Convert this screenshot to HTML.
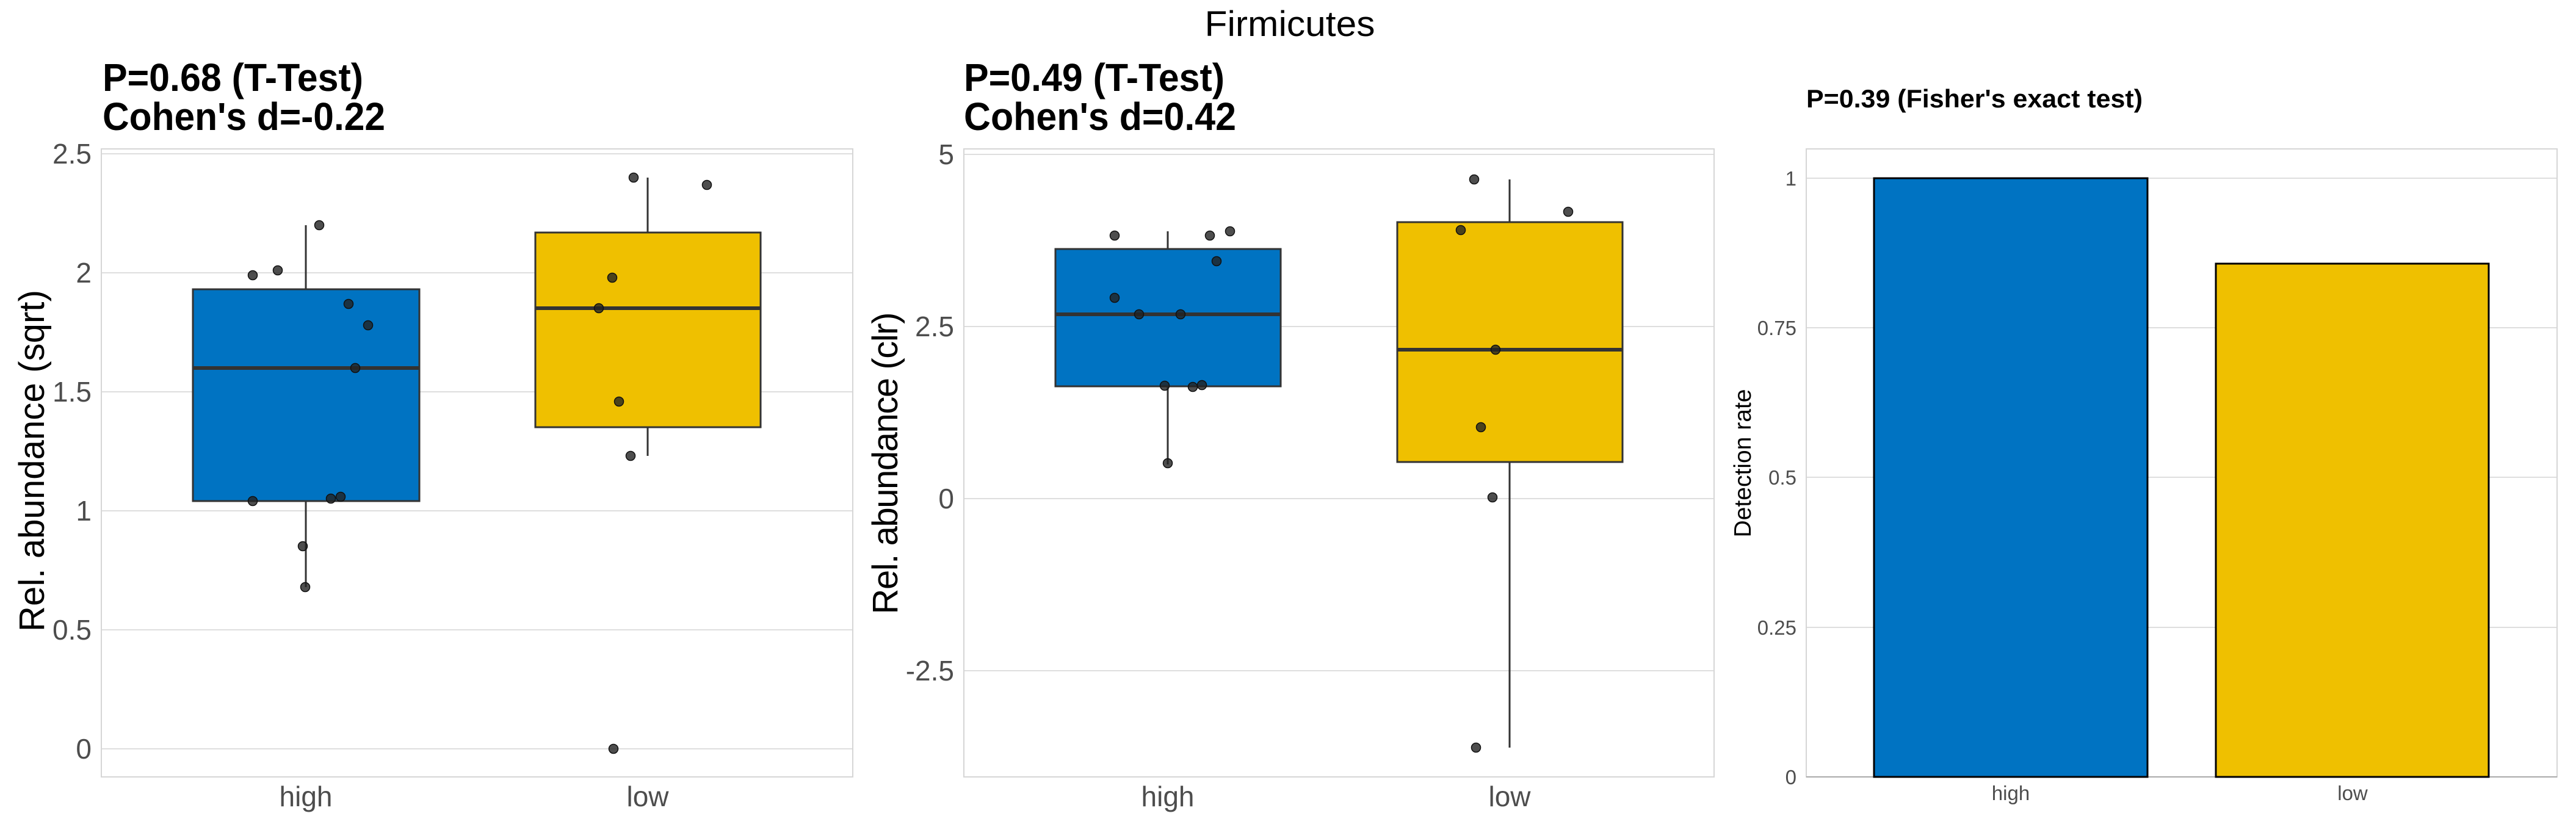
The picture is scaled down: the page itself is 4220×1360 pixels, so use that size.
<!DOCTYPE html>
<html><head><meta charset="utf-8"><style>html,body{margin:0;padding:0;background:#fff}svg{display:block}</style></head>
<body>
<svg xmlns="http://www.w3.org/2000/svg" width="4220" height="1360" viewBox="0 0 4220 1360" font-family="Liberation Sans, Arial, sans-serif">
<rect width="4220" height="1360" fill="#fff"/>
<text x="2113" y="59" font-size="58" text-anchor="middle" fill="#000" textLength="279" lengthAdjust="spacingAndGlyphs">Firmicutes</text>

<!-- Panel 1 -->
<g>
<text x="168" y="149" font-size="64" font-weight="bold" textLength="427" lengthAdjust="spacingAndGlyphs">P=0.68 (T-Test)</text>
<text x="168" y="213" font-size="64" font-weight="bold" textLength="463" lengthAdjust="spacingAndGlyphs">Cohen's d=-0.22</text>
<g stroke="#dedede" stroke-width="2">
<line x1="166" x2="1397" y1="1227" y2="1227"/><line x1="166" x2="1397" y1="1032" y2="1032"/><line x1="166" x2="1397" y1="837" y2="837"/><line x1="166" x2="1397" y1="642" y2="642"/><line x1="166" x2="1397" y1="447" y2="447"/><line x1="166" x2="1397" y1="252" y2="252"/>
</g>
<rect x="166" y="244" width="1231" height="1029" fill="none" stroke="#d6d6d6" stroke-width="2"/>
<g font-size="46" fill="#4d4d4d" text-anchor="end">
<text x="150" y="1243">0</text><text x="150" y="1048">0.5</text><text x="150" y="853">1</text><text x="150" y="658">1.5</text><text x="150" y="463">2</text><text x="150" y="268">2.5</text>
</g>
<g font-size="46" fill="#4d4d4d" text-anchor="middle"><text x="501" y="1321">high</text><text x="1061" y="1321">low</text></g>
<text transform="translate(72,755) rotate(-90)" font-size="58" text-anchor="middle" textLength="560">Rel. abundance (sqrt)</text>
<g stroke="#333" stroke-width="3">
<line x1="501" x2="501" y1="369" y2="962"/>
<rect x="316" y="474" width="371" height="347" fill="#0073C2"/>
<line x1="316" x2="687" y1="603" y2="603" stroke-width="6"/>
<line x1="1061" x2="1061" y1="291" y2="747"/>
<rect x="877" y="381" width="369" height="319" fill="#EFC000"/>
<line x1="877" x2="1246" y1="505" y2="505" stroke-width="6"/>
</g>
<g fill="#222" fill-opacity="0.8" stroke="#111" stroke-width="1.5">
<circle cx="414" cy="451" r="7.5"/><circle cx="455" cy="443" r="7.5"/><circle cx="523" cy="369" r="7.5"/><circle cx="571" cy="498" r="7.5"/><circle cx="603" cy="533" r="7.5"/><circle cx="582" cy="603" r="7.5"/><circle cx="414" cy="821" r="7.5"/><circle cx="542" cy="817" r="7.5"/><circle cx="558" cy="814" r="7.5"/><circle cx="496" cy="895" r="7.5"/><circle cx="500" cy="962" r="7.5"/>
<circle cx="1038" cy="291" r="7.5"/><circle cx="1158" cy="303" r="7.5"/><circle cx="1003" cy="455" r="7.5"/><circle cx="981" cy="505" r="7.5"/><circle cx="1014" cy="658" r="7.5"/><circle cx="1033" cy="747" r="7.5"/><circle cx="1005" cy="1227" r="7.5"/>
</g>
</g>

<!-- Panel 2 -->
<g>
<text x="1579" y="149" font-size="64" font-weight="bold" textLength="427" lengthAdjust="spacingAndGlyphs">P=0.49 (T-Test)</text>
<text x="1579" y="213" font-size="64" font-weight="bold" textLength="446" lengthAdjust="spacingAndGlyphs">Cohen's d=0.42</text>
<g stroke="#dedede" stroke-width="2">
<line x1="1579" x2="2808" y1="253" y2="253"/><line x1="1579" x2="2808" y1="535" y2="535"/><line x1="1579" x2="2808" y1="817" y2="817"/><line x1="1579" x2="2808" y1="1099" y2="1099"/>
</g>
<rect x="1579" y="244" width="1229" height="1029" fill="none" stroke="#d6d6d6" stroke-width="2"/>
<g font-size="46" fill="#4d4d4d" text-anchor="end">
<text x="1563" y="269">5</text><text x="1563" y="551">2.5</text><text x="1563" y="833">0</text><text x="1563" y="1115">-2.5</text>
</g>
<g font-size="46" fill="#4d4d4d" text-anchor="middle"><text x="1913" y="1321">high</text><text x="2473" y="1321">low</text></g>
<text transform="translate(1470,759) rotate(-90)" font-size="58" text-anchor="middle" textLength="495">Rel. abundance (clr)</text>
<g stroke="#333" stroke-width="3">
<line x1="1913" x2="1913" y1="379" y2="761"/>
<rect x="1729" y="408" width="369" height="225" fill="#0073C2"/>
<line x1="1729" x2="2098" y1="515" y2="515" stroke-width="6"/>
<line x1="2473" x2="2473" y1="294" y2="1225"/>
<rect x="2289" y="364" width="369" height="393" fill="#EFC000"/>
<line x1="2289" x2="2658" y1="573" y2="573" stroke-width="6"/>
</g>
<g fill="#222" fill-opacity="0.8" stroke="#111" stroke-width="1.5">
<circle cx="1826" cy="386" r="7.5"/><circle cx="1982" cy="386" r="7.5"/><circle cx="2015" cy="379" r="7.5"/><circle cx="1993" cy="428" r="7.5"/><circle cx="1826" cy="488" r="7.5"/><circle cx="1866" cy="515" r="7.5"/><circle cx="1934" cy="515" r="7.5"/><circle cx="1908" cy="632" r="7.5"/><circle cx="1954" cy="634" r="7.5"/><circle cx="1969" cy="631" r="7.5"/><circle cx="1913" cy="759" r="7.5"/>
<circle cx="2415" cy="294" r="7.5"/><circle cx="2569" cy="347" r="7.5"/><circle cx="2393" cy="377" r="7.5"/><circle cx="2450" cy="573" r="7.5"/><circle cx="2426" cy="700" r="7.5"/><circle cx="2445" cy="815" r="7.5"/><circle cx="2418" cy="1225" r="7.5"/>
</g>
</g>

<!-- Panel 3 -->
<g>
<text x="2959" y="176" font-size="42" font-weight="bold" textLength="551" lengthAdjust="spacingAndGlyphs">P=0.39 (Fisher's exact test)</text>
<g stroke="#dedede" stroke-width="2">
<line x1="2959" x2="4189" y1="1028" y2="1028"/><line x1="2959" x2="4189" y1="782" y2="782"/><line x1="2959" x2="4189" y1="537" y2="537"/><line x1="2959" x2="4189" y1="292" y2="292"/>
</g>
<rect x="2959" y="244" width="1230" height="1029" fill="none" stroke="#d6d6d6" stroke-width="2"/>
<line x1="2959" x2="4189" y1="1273" y2="1273" stroke="#aaa" stroke-width="2"/>
<g font-size="33" fill="#4d4d4d" text-anchor="end">
<text x="2943" y="1285">0</text><text x="2943" y="1040">0.25</text><text x="2943" y="794">0.5</text><text x="2943" y="549">0.75</text><text x="2943" y="304">1</text>
</g>
<g font-size="33" fill="#4d4d4d" text-anchor="middle"><text x="3294" y="1311">high</text><text x="3854" y="1311">low</text></g>
<text transform="translate(2868,759) rotate(-90)" font-size="39" text-anchor="middle" textLength="243">Detection rate</text>
<g stroke="#000" stroke-width="3">
<rect x="3070" y="292" width="448" height="981" fill="#0073C2"/>
<rect x="3630" y="432" width="447" height="841" fill="#EFC000"/>
</g>
</g>
</svg>
</body></html>
